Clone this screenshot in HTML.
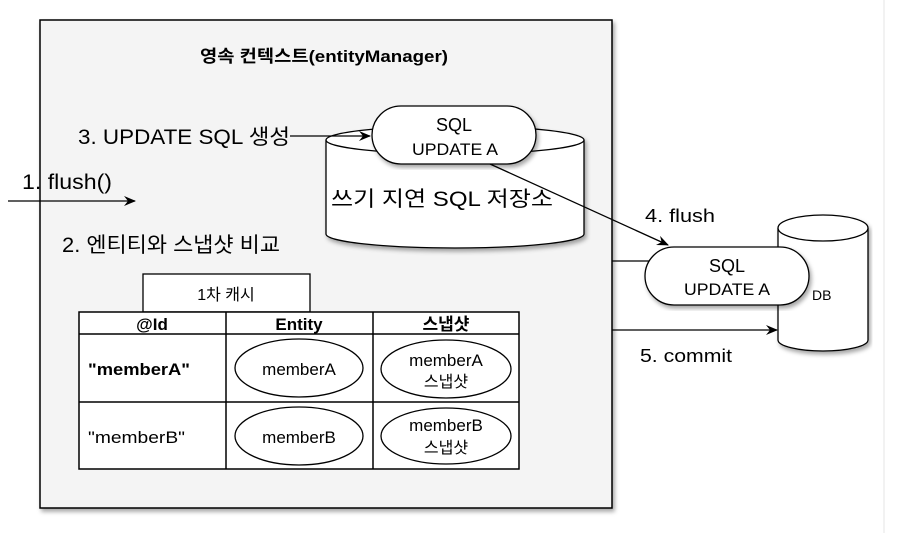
<!DOCTYPE html>
<html><head><meta charset="utf-8"><style>
body{margin:0;background:#fff;}
svg text{font-family:"Liberation Sans","Noto Sans CJK KR",sans-serif;}
</style></head><body>
<svg width="910" height="533" viewBox="0 0 910 533" xmlns="http://www.w3.org/2000/svg">
<defs>
<marker id="ar" markerWidth="12" markerHeight="10" refX="11" refY="5" orient="auto" markerUnits="userSpaceOnUse">
<path d="M0,0 L12,5 L0,10 L4,5 z" fill="#000"/></marker>
<filter id="sh" x="-5%" y="-5%" width="110%" height="115%"><feDropShadow dx="2" dy="3" stdDeviation="2" flood-opacity="0.35"/></filter>
</defs>
<line x1="884" y1="0" x2="884" y2="533" stroke="#e6e6e6" stroke-width="1"/>
<rect x="40" y="20" width="572" height="488" fill="#f4f4f4" stroke="#000" stroke-width="1.5" filter="url(#sh)"/>
<text x="200" y="62" font-size="17" font-weight="bold" textLength="248" lengthAdjust="spacingAndGlyphs">영속 컨텍스트(entityManager)</text>
<g filter="url(#sh)">
<path d="M326,140 L326,234 A129,14 0 0 0 584,234 L584,140" fill="#fff" stroke="#000" stroke-width="1.3"/>
<ellipse cx="455" cy="140" rx="129" ry="14" fill="#fff" stroke="#000" stroke-width="1.3"/>
</g>
<text x="331" y="206" font-size="21" textLength="222" lengthAdjust="spacingAndGlyphs">쓰기 지연 SQL 저장소</text>
<rect x="372" y="106" width="164" height="58" rx="29" fill="#fff" stroke="#000" stroke-width="1.3" filter="url(#sh)"/>
<text x="454" y="131" font-size="18" text-anchor="middle">SQL</text>
<text x="455" y="155" font-size="17" text-anchor="middle" textLength="86" lengthAdjust="spacingAndGlyphs">UPDATE A</text>
<text x="78" y="144" font-size="21" textLength="212" lengthAdjust="spacingAndGlyphs">3. UPDATE SQL 생성</text>
<line x1="290" y1="136" x2="370" y2="136" stroke="#000" stroke-width="1.3" marker-end="url(#ar)"/>
<text x="22" y="189" font-size="21" textLength="90" lengthAdjust="spacingAndGlyphs">1. flush()</text>
<line x1="8" y1="201" x2="135" y2="201" stroke="#000" stroke-width="1.3" marker-end="url(#ar)"/>
<text x="62" y="252" font-size="21" textLength="218" lengthAdjust="spacingAndGlyphs">2. 엔티티와 스냅샷 비교</text>
<rect x="143" y="274" width="167" height="38" fill="#fff" stroke="#000" stroke-width="1.3"/>
<text x="226" y="300" font-size="16" text-anchor="middle">1차 캐시</text>
<rect x="79" y="312" width="440" height="157" fill="#fff" stroke="#000" stroke-width="1.5"/>
<line x1="79" y1="334" x2="519" y2="334" stroke="#000" stroke-width="1.5"/>
<line x1="79" y1="402" x2="519" y2="402" stroke="#000" stroke-width="1.5"/>
<line x1="226" y1="312" x2="226" y2="469" stroke="#000" stroke-width="1.5"/>
<line x1="373" y1="312" x2="373" y2="469" stroke="#000" stroke-width="1.5"/>
<text x="152" y="330" font-size="17" font-weight="bold" text-anchor="middle">@Id</text>
<text x="299" y="330" font-size="17" font-weight="bold" text-anchor="middle">Entity</text>
<text x="446" y="330" font-size="17" font-weight="bold" text-anchor="middle">스냅샷</text>
<text x="88" y="375" font-size="17" font-weight="bold" textLength="102" lengthAdjust="spacingAndGlyphs">"memberA"</text>
<text x="88" y="443" font-size="17" textLength="97" lengthAdjust="spacingAndGlyphs">"memberB"</text>
<ellipse cx="299" cy="368" rx="64" ry="29" fill="#fff" stroke="#000" stroke-width="1.3"/>
<text x="299" y="375" font-size="17" text-anchor="middle">memberA</text>
<ellipse cx="299" cy="436" rx="64" ry="29" fill="#fff" stroke="#000" stroke-width="1.3"/>
<text x="299" y="443" font-size="17" text-anchor="middle">memberB</text>
<ellipse cx="446" cy="369" rx="65" ry="29" fill="#fff" stroke="#000" stroke-width="1.3"/>
<text x="446" y="366" font-size="17" text-anchor="middle">memberA</text>
<text x="446" y="387" font-size="16" text-anchor="middle">스냅샷</text>
<ellipse cx="446" cy="436" rx="65" ry="28" fill="#fff" stroke="#000" stroke-width="1.3"/>
<text x="446" y="431" font-size="17" text-anchor="middle">memberB</text>
<text x="446" y="453" font-size="16" text-anchor="middle">스냅샷</text>
<line x1="490" y1="164" x2="668" y2="245" stroke="#000" stroke-width="1.3" marker-end="url(#ar)"/>
<text x="645" y="222" font-size="18" textLength="70" lengthAdjust="spacingAndGlyphs">4. flush</text>
<g filter="url(#sh)">
<path d="M778,228 L778,340 A45,11 0 0 0 868,340 L868,228" fill="#fff" stroke="#000" stroke-width="1.3"/>
<ellipse cx="823" cy="228" rx="45" ry="13" fill="#fff" stroke="#000" stroke-width="1.3"/>
</g>
<text x="812" y="300" font-size="14">DB</text>
<line x1="612" y1="261" x2="650" y2="261" stroke="#000" stroke-width="1.3"/>
<rect x="645" y="247" width="164" height="58" rx="29" fill="#fff" stroke="#000" stroke-width="1.3" filter="url(#sh)"/>
<text x="727" y="272" font-size="18" text-anchor="middle">SQL</text>
<text x="727" y="295" font-size="17" text-anchor="middle" textLength="86" lengthAdjust="spacingAndGlyphs">UPDATE A</text>
<line x1="612" y1="330" x2="777" y2="330" stroke="#000" stroke-width="1.3" marker-end="url(#ar)"/>
<text x="640" y="362" font-size="18" textLength="92" lengthAdjust="spacingAndGlyphs">5. commit</text>
</svg>
</body></html>
